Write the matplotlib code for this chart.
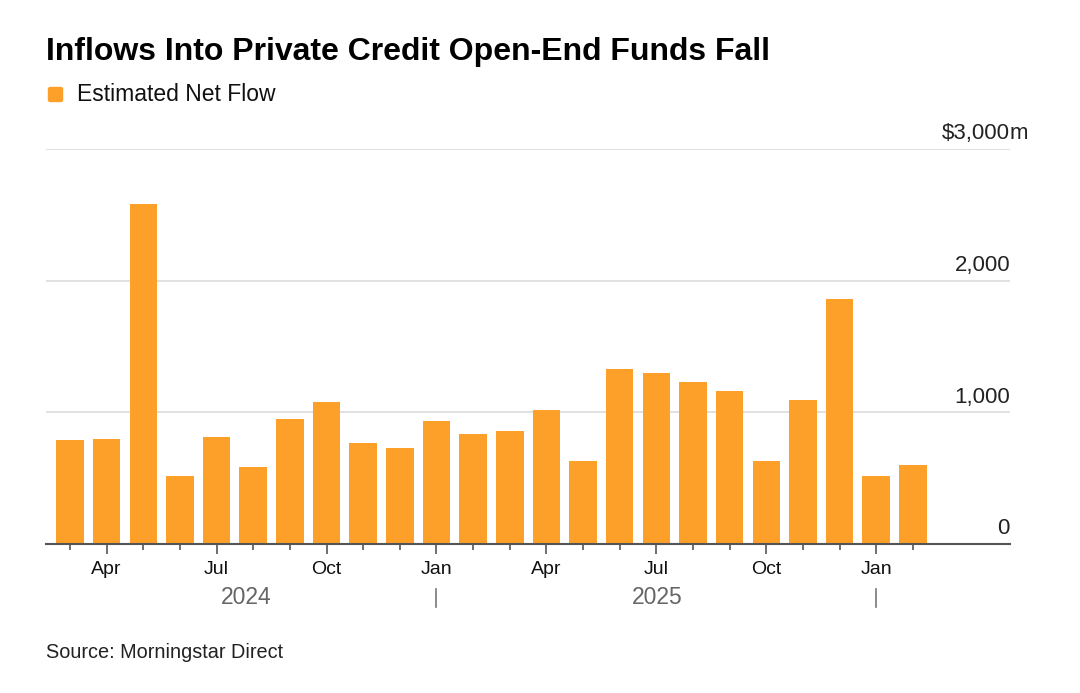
import matplotlib
matplotlib.use("Agg")
import matplotlib.pyplot as plt
from matplotlib.patches import FancyBboxPatch

plt.rcParams['font.family'] = ['Liberation Sans', 'DejaVu Sans']

months = ["Mar 2024", "Apr 2024", "May 2024", "Jun 2024", "Jul 2024", "Aug 2024",
          "Sep 2024", "Oct 2024", "Nov 2024", "Dec 2024", "Jan 2025", "Feb 2025",
          "Mar 2025", "Apr 2025", "May 2025", "Jun 2025", "Jul 2025", "Aug 2025",
          "Sep 2025", "Oct 2025", "Nov 2025", "Dec 2025", "Jan 2026", "Feb 2026"]
net_flow = [790, 797, 2582, 516, 812, 585, 949, 1078, 767, 729, 934, 835,
            858, 1017, 630, 1329, 1298, 1230, 1162, 630, 1093, 1860, 516, 600]
month_labels = {1: "Apr", 4: "Jul", 7: "Oct", 10: "Jan", 13: "Apr", 16: "Jul", 19: "Oct", 22: "Jan"}
years = ["2024", "2025"]
y_ticks = [0, 1000, 2000, 3000]
y_labels = ["0", "1,000", "2,000", "$3,000"]

color = "#FDA02A"
W, H = 1080, 693

fig = plt.figure(figsize=(10.8, 6.93), dpi=100)
ax = fig.add_axes([46/W, 1-544/H, (1010-46)/W, (544-149)/H])

x = list(range(len(net_flow)))
ax.bar(x, net_flow, width=0.75, color=color, zorder=3)
ax.set_xlim(-0.655, 25.65)
ax.set_ylim(0, 3000)

for s in ["top", "right", "left"]:
    ax.spines[s].set_visible(False)
ax.spines["bottom"].set_color("#555555")
ax.spines["bottom"].set_linewidth(1.5)
ax.spines["bottom"].set_zorder(4)

ax.set_yticks(y_ticks)
ax.set_yticklabels([])
ax.tick_params(axis="y", length=0)
ax.grid(axis="y", color="#dcdcdc", linewidth=1.2, zorder=0)
for v, lab in zip(y_ticks, y_labels):
    ax.annotate(lab, xy=(1.0, v), xycoords=ax.get_yaxis_transform(),
                xytext=(0, 7), textcoords="offset points",
                ha="right", va="baseline", fontsize=16, color="#222222")
ax.annotate("m", xy=(0.9995, 3000), xycoords=ax.get_yaxis_transform(),
            xytext=(0, 7), textcoords="offset points",
            ha="left", va="baseline", fontsize=16, color="#222222")

major = sorted(month_labels.keys())
minor = [i for i in x if i not in month_labels]
ax.set_xticks(major)
ax.set_xticklabels([month_labels[i] for i in major], fontsize=14, color="#111111")
ax.set_xticks(minor, minor=True)
ax.tick_params(axis="x", which="major", length=7, width=1.2, color="#555555", pad=5)
ax.tick_params(axis="x", which="minor", length=4, width=1.2, color="#555555")

# Year labels and separators
trans = ax.get_xaxis_transform()
yb = (544 - 604) / (544 - 149)
ax.text(4.8, yb, years[0], transform=trans, ha="center", va="baseline", fontsize=16.5, color="#666666")
ax.text(16.03, yb, years[1], transform=trans, ha="center", va="baseline", fontsize=16.5, color="#666666")
for xi in [10, 22]:
    ax.plot([xi, xi], [(544-589)/395, (544-607)/395], transform=trans, color="#777777", lw=1.2, clip_on=False)

fig.text(46/W, 1-60/H, "Inflows Into Private Credit Open-End Funds Fall", fontsize=23,
         fontweight="bold", ha="left", va="baseline", color="#000000")
fig.patches.append(FancyBboxPatch((48.5/W, 1-101.5/H), 14/W, 14/H, boxstyle="round,pad=0,rounding_size=0.002",
                                  transform=fig.transFigure, color=color, figure=fig))
fig.text(77/W, 1-101/H, "Estimated Net Flow", fontsize=16.5, ha="left", va="baseline", color="#111111")
fig.text(46/W, 1-658/H, "Source: Morningstar Direct", fontsize=14.3, ha="left", va="baseline", color="#222222")

fig.savefig("out.png", dpi=100)
